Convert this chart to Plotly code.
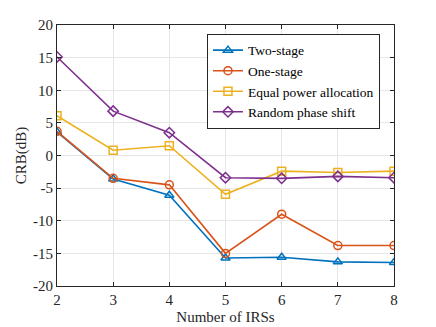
import plotly.graph_objects as go

n_irs = [2, 3, 4, 5, 6, 7, 8]
two_stage = [3.6, -3.6, -6.1, -15.7, -15.6, -16.3, -16.4]
one_stage = [3.7, -3.5, -4.5, -15.0, -9.0, -13.8, -13.8]
equal_power = [6.1, 0.8, 1.5, -5.95, -2.4, -2.6, -2.4]
random_phase = [15.1, 6.8, 3.5, -3.4, -3.5, -3.2, -3.4]

y_ticks = [-20, -15, -10, -5, 0, 5, 10, 15, 20]
y_tick_labels = ["-20", "-15", "-10", "-5", "0", "5", "10", "15", "20"]

series = [
    ("Two-stage", two_stage, "#0072BD", "triangle-up-open"),
    ("One-stage", one_stage, "#D95319", "circle-open"),
    ("Equal power allocation", equal_power, "#EDB120", "square-open"),
    ("Random phase shift", random_phase, "#7E2F8E", "diamond-open"),
]

fig = go.Figure()
for name, vals, color, sym in series:
    fig.add_trace(go.Scatter(
        x=n_irs, y=vals, name=name, mode="lines+markers",
        line=dict(color=color, width=1.6),
        marker=dict(symbol=sym, size=8, color=color, line=dict(width=1.5, color=color)),
    ))

serif = "Liberation Serif"
font = dict(family=serif, size=15, color="#262626")
axis_common = dict(
    showline=True, linecolor="#262626", linewidth=1, mirror="ticks",
    ticks="inside", ticklen=4, tickcolor="#262626",
    showgrid=True, gridcolor="#e6e6e6", gridwidth=1, zeroline=False,
    tickfont=font, automargin=False,
)
fig.update_xaxes(range=[2, 8], dtick=1, title=dict(text="Number of IRSs", font=font, standoff=4), **axis_common)
fig.update_yaxes(range=[-20, 20], tickvals=y_ticks, ticktext=y_tick_labels,
                 title=dict(text="CRB(dB)", font=font, standoff=2), **axis_common)

# the page body adds 8px around the figure, so the figure is 8px smaller
fig.update_layout(
    width=428, height=319,
    margin=dict(l=49, r=42, t=17, b=41),
    paper_bgcolor="white", plot_bgcolor="white",
    font=font,
    legend=dict(
        x=0.445, y=0.966, xanchor="left", yanchor="top",
        bgcolor="white", bordercolor="#262626", borderwidth=1,
        font=dict(family=serif, size=13.5, color="#000"),
        itemwidth=30, tracegroupgap=0,
    ),
)

fig.write_html("out.html")
